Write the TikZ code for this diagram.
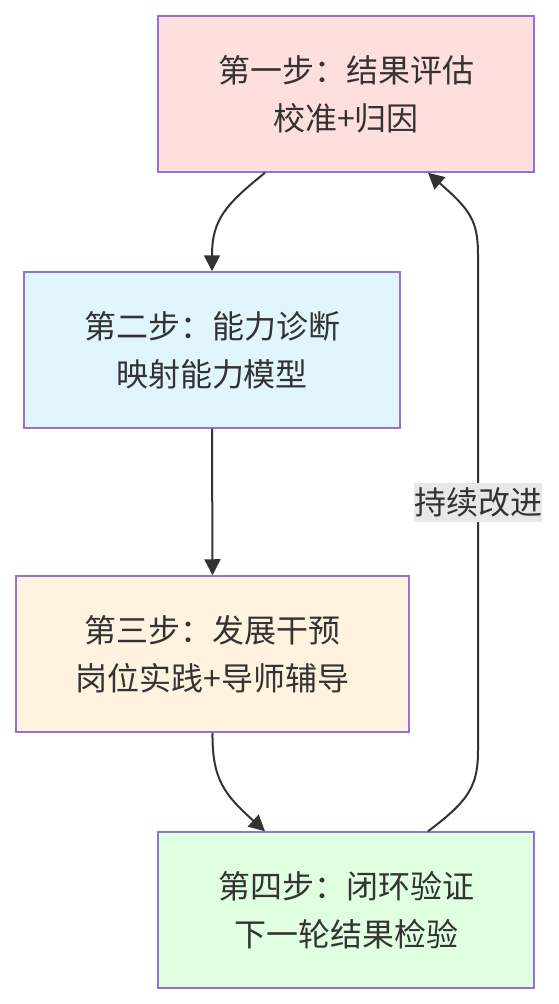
\documentclass[tikz,border=0pt]{standalone}
\usepackage{fontspec}
\setmainfont{Noto Sans CJK SC}
\usepackage{tikz}
\usetikzlibrary{arrows.meta}
\definecolor{edge}{RGB}{147,112,219}
\definecolor{ink}{RGB}{51,51,51}
\definecolor{pinkfill}{RGB}{255,222,222}
\definecolor{bluefill}{RGB}{225,245,254}
\definecolor{orangefill}{RGB}{255,243,224}
\definecolor{greenfill}{RGB}{224,255,224}
\definecolor{labelfill}{RGB}{232,232,232}

\begin{document}
\begin{tikzpicture}[x=1pt, y=-1pt,
    stage/.style={draw=edge, line width=1.5pt, minimum height=156pt, inner sep=0pt,
      align=center, text=ink, font=\fontsize{32pt}{48pt}\selectfont},
    flow/.style={draw=ink, line width=2pt, -{Triangle[length=16pt,width=16pt]}}]
  \useasboundingbox (0,0) rectangle (558,1004);
  %% The four steps
  \node[stage, fill=pinkfill, minimum width=376pt] (s1) at (346,94) {第一步：结果评估\\校准+归因};
  \node[stage, fill=bluefill, minimum width=376pt] (s2) at (212,350) {第二步：能力诊断\\映射能力模型};
  \node[stage, fill=orangefill, minimum width=393pt] (s3) at (212.5,654) {第三步：发展干预\\岗位实践+导师辅导};
  \node[stage, fill=greenfill, minimum width=376pt] (s4) at (346,910) {第四步：闭环验证\\下一轮结果检验};
  %% Forward connectors
  \draw[flow] ([xshift=-81pt]s1.south) .. controls (225,205) and (212,220) .. (s2.north);
  \draw[flow] (s2.south) -- (s3.north);
  \draw[flow] (s3.south) .. controls (212,780) and (225,795) .. ([xshift=-81pt]s4.north);
  %% Feedback loop
  \coordinate (loopLow) at (478,750);
  \coordinate (loopHigh) at (478,255);
  \draw[flow] ([xshift=82pt]s4.north) .. controls (470,800) and (478,785) .. (loopLow)
    -- node[fill=labelfill, text=ink, inner xsep=0pt, inner ysep=5pt, font=\fontsize{32pt}{40pt}\selectfont] (lbl) {持续改进} (loopHigh)
    .. controls (478,220) and (470,210) .. ([xshift=82pt]s1.south);
\end{tikzpicture}
\end{document}
